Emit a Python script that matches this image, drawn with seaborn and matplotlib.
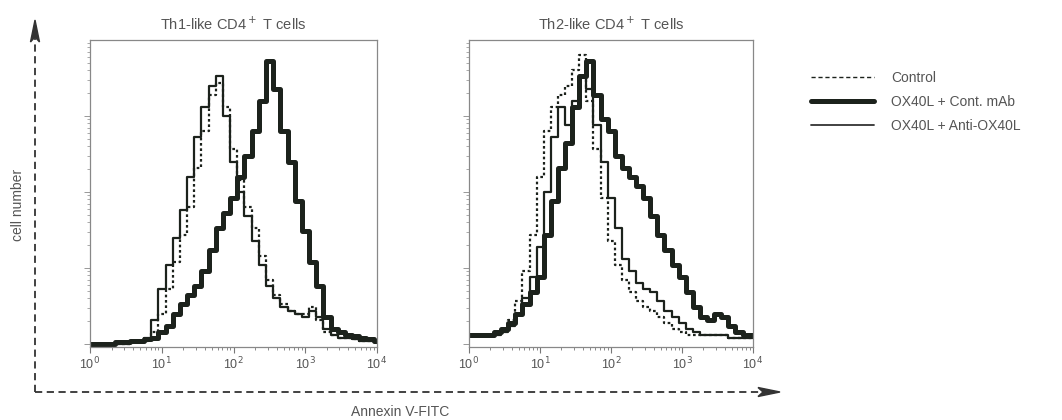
import numpy as np
import pandas as pd
import seaborn as sns
import matplotlib.pyplot as plt
from matplotlib.lines import Line2D
from matplotlib.patches import Polygon

# channel positions, log10(Annexin V-FITC), 0.1 decade bins
decades = np.round(np.arange(0, 4.01, 0.1), 1)

# Th1-like CD4+ T cells (percent of max count)
th1_control = [0, 0, 0, 0, 0, 0, 0.5, 0.5, 1, 4, 10, 18, 27, 36, 45, 58, 70, 82, 86, 78,
               64, 54, 45, 38, 29, 21, 16, 13, 11, 10, 10, 12, 8, 4, 3, 2, 2, 1.5, 1, 1, 0.5]
th1_cont_mab = [0, 0, 0, 0, 0.5, 0.5, 1, 1, 1.5, 2, 4, 6, 10, 13, 16, 19, 24, 31, 38, 43,
                48, 55, 62, 70, 80, 93, 84, 70, 60, 47, 37, 27, 19, 9, 5, 4, 3, 2.5, 2, 1.5, 1]
th1_anti = [0, 0, 0, 0, 0, 0, 0.5, 1, 2, 8, 18, 26, 35, 44, 55, 68, 78, 85, 88, 75,
            60, 50, 42, 34, 26, 19, 15, 12, 11, 10, 9, 11, 9, 5, 3, 2, 2, 1.5, 1, 1, 0.5]

# Th2-like CD4+ T cells
th2_control = [3, 3, 3, 3, 4, 5, 8, 14, 24, 36, 55, 70, 78, 82, 85, 90, 95, 80, 64, 48,
               34, 26, 21, 17, 14, 12, 11, 9, 7, 5, 4, 3, 3, 3, 3, 3, 3, 2, 2, 2, 2]
th2_cont_mab = [3, 3, 3, 3, 4, 5, 7, 10, 13, 17, 22, 36, 47, 58, 66, 78, 88, 93, 82, 74,
                70, 62, 58, 55, 52, 48, 42, 36, 31, 26, 22, 17, 12, 9, 8, 10, 9, 6, 4, 3, 3]
th2_anti = [3, 3, 3, 3, 3, 4, 6, 10, 15, 22, 32, 50, 68, 78, 72, 80, 88, 84, 72, 60,
            48, 38, 28, 24, 20, 18, 17, 14, 11, 9, 7, 5, 4, 3, 3, 3, 3, 2, 2, 2, 2]

titles = ["Th1-like CD4$^+$ T cells", "Th2-like CD4$^+$ T cells"]
labels = ["Control", "OX40L + Cont. mAb", "OX40L + Anti-OX40L"]
panels = [(th1_control, th1_cont_mab, th1_anti), (th2_control, th2_cont_mab, th2_anti)]

sns.set_style("white")
plt.rcParams['font.family'] = ['Liberation Sans', 'DejaVu Sans']

ink = "#1c221c"
grey = "#555555"
W, H = 1062, 420
fig = plt.figure(figsize=(W / 100, H / 100), dpi=100)

boxes = [(90, 40, 287, 307), (469, 40, 284, 307)]
for (x0, y0, w, h), title, series in zip(boxes, titles, panels):
    ax = fig.add_axes([x0 / W, 1 - (y0 + h) / H, w / W, h / H])
    df = pd.DataFrame({"x": 10 ** decades, "control": series[0],
                       "cont": series[1], "anti": series[2]})
    sns.lineplot(data=df, x="x", y="cont", ax=ax, color=ink, lw=3.6,
                 drawstyle="steps-mid")
    sns.lineplot(data=df, x="x", y="anti", ax=ax, color=ink, lw=1.6,
                 drawstyle="steps-mid")
    sns.lineplot(data=df, x="x", y="control", ax=ax, color=ink, lw=1.6,
                 linestyle=(0, (1.2, 1.2)), drawstyle="steps-mid")
    ax.set_xscale("log")
    ax.set_xlim(1, 1e4)
    ax.set_ylim(-1, 100)
    ax.set_xlabel("")
    ax.set_ylabel("")
    ax.set_xticks([1, 10, 100, 1000, 10000])
    ax.set_xticklabels(["10$^0$", "10$^1$", "10$^2$", "10$^3$", "10$^4$"])
    ax.tick_params(axis="x", which="both", bottom=True)
    ax.tick_params(axis="x", which="major", direction="out", length=4, width=0.8,
                   colors="#777777", labelcolor=grey, labelsize=9, pad=2)
    ax.tick_params(axis="x", which="minor", direction="out", length=2.5, width=0.6,
                   colors="#777777")
    # log-style ticks along the count axis, no labels
    ymaj = [25 * d for d in range(4)]
    ymin = [25 * (d + np.log10(k)) for d in range(4) for k in range(2, 10)]
    ax.set_yticks(ymaj)
    ax.set_yticks(ymin, minor=True)
    ax.set_yticklabels([])
    ax.tick_params(axis="y", which="both", left=True)
    ax.tick_params(axis="y", which="major", direction="out", length=4, width=0.6,
                   colors="#888888")
    ax.tick_params(axis="y", which="minor", direction="out", length=2.5, width=0.5,
                   colors="#888888")
    for s in ax.spines.values():
        s.set_color("#888888")
        s.set_linewidth(0.9)
    ax.set_title(title, fontsize=10.5, color=grey, pad=7)

# overlay for the dashed axis arrows and labels
ov = fig.add_axes([0, 0, 1, 1])
ov.set_xlim(0, W)
ov.set_ylim(H, 0)
ov.axis("off")
dash = dict(color="#333333", lw=1.3, linestyle=(0, (4, 2.5)))
ov.plot([35, 35], [392, 36], **dash)
ov.plot([35, 762], [392, 392], **dash)
ov.add_patch(Polygon([[35, 20], [30.5, 42], [35, 37], [39.5, 42]], closed=True,
                     color="#333333"))
ov.add_patch(Polygon([[780, 392], [758, 387.5], [763, 392], [758, 396.5]], closed=True,
                     color="#333333"))
ov.text(18, 205, "cell number", rotation=90, ha="center", va="center",
        fontsize=10, color=grey)
ov.text(400, 412, "Annexin V-FITC", ha="center", va="center", fontsize=10, color=grey)

handles = [Line2D([], [], color=ink, lw=1.0, linestyle=(0, (3, 2))),
           Line2D([], [], color=ink, lw=3.6),
           Line2D([], [], color="#333333", lw=1.3)]
fig.legend(handles, labels, loc="upper left", bbox_to_anchor=(798 / W, 1 - 58 / H),
           frameon=False, handlelength=4.6, handletextpad=1.2, labelspacing=0.75,
           fontsize=10, labelcolor=grey)

fig.savefig("out.png", dpi=100)
